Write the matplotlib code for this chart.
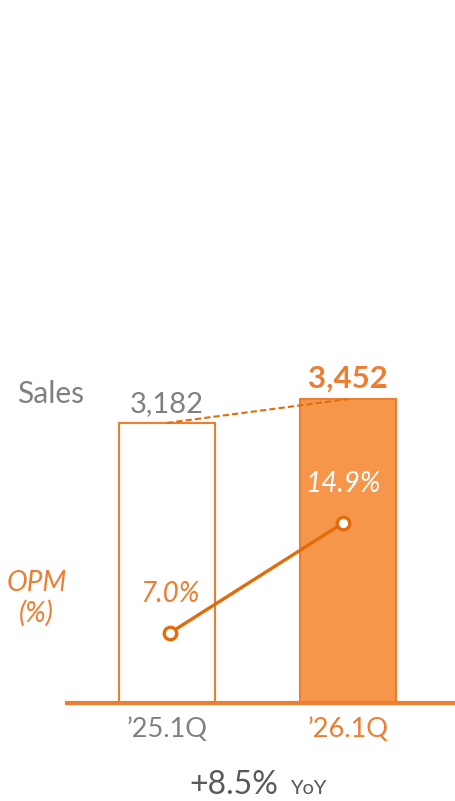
import matplotlib
matplotlib.use("Agg")
import matplotlib.pyplot as plt

categories = ["\u201925.1Q", "\u201926.1Q"]
sales = [3182, 3452]
sales_labels = ["3,182", "3,452"]
opm = [7.0, 14.9]
opm_labels = ["7.0%", "14.9%"]
yoy_text = "+8.5%"

ORANGE = "#ED7D31"
ORANGE_FILL = "#F5964A"
LINE = "#E36C0A"
GRAY = "#808080"
DARK = "#595959"

plt.rcParams['font.family'] = ['Lato', 'DejaVu Sans']

W, H = 455, 801
fig = plt.figure(figsize=(W/100, H/100), dpi=100)
ax = fig.add_axes([67/W, (H-703)/H, (W-67)/W, 700/H])
x = [0, 1]
ax.set_xlim(-100/181, 288/181)
ax.set_ylim(0, 700/0.08803)

ax.bar(x[0], sales[0], width=96/181, color="white", edgecolor=ORANGE, linewidth=1.5, zorder=2)
ax.bar(x[1], sales[1], width=96/181, color=ORANGE_FILL, edgecolor=ORANGE, linewidth=1.5, zorder=2)
ax.plot(x, sales, linestyle=(0, (3, 1.5)), color=LINE, linewidth=1.5, zorder=3)

for s in ["top", "right", "left"]:
    ax.spines[s].set_visible(False)
ax.spines["bottom"].set_color(ORANGE)
ax.spines["bottom"].set_linewidth(3)
ax.set_yticks([])
ax.set_xticks(x)
ax.set_xticklabels(categories, fontsize=19.5, fontweight="normal")
ax.tick_params(axis="x", length=0, pad=10)
for lab, c in zip(ax.get_xticklabels(), [GRAY, ORANGE]):
    lab.set_color(c)

ax.annotate(sales_labels[0], (x[0], sales[0]), xytext=(0, 4), textcoords="offset points",
            ha="center", va="bottom", fontsize=21, color=GRAY)
ax.annotate(sales_labels[1], (x[1], sales[1]), xytext=(0, 5), textcoords="offset points",
            ha="center", va="bottom", fontsize=22.5, color=ORANGE, fontweight="bold")
ax.annotate("Sales", (x[0], sales[0]), xytext=(-84, 21), textcoords="offset points",
            ha="center", va="center", fontsize=21.5, color=GRAY)

ax2 = ax.twinx()
ax2.set_ylim(27.5/13.92, 727.5/13.92)
ax2.axis("off")
ax2.plot([x[0]+0.015, x[1]-0.028], opm, color=LINE, linewidth=2.4, marker="o",
         markersize=9, markerfacecolor="white", markeredgecolor=LINE, markeredgewidth=2.4, zorder=5)
ax2.annotate(opm_labels[0], (x[0], opm[0]), xytext=(2, 28), textcoords="offset points",
             ha="center", va="center", fontsize=20, color=ORANGE, style="italic")
ax2.annotate(opm_labels[1], (x[1], opm[1]), xytext=(-4, 28), textcoords="offset points",
             ha="center", va="center", fontsize=20, color="white", style="italic")
ax2.annotate("OPM\n(%)", (x[0], opm[0]), xytext=(-94, 25), textcoords="offset points",
             ha="center", va="center", fontsize=20, color=ORANGE, style="italic",
             linespacing=1.15)

fig.text(278/W, 1-785/H, yoy_text, ha="right", va="center", fontsize=23, color=DARK)
fig.text(290/W, 1-788/H, "YoY", ha="left", va="center", fontsize=14.5, color=DARK)

fig.savefig("out.png", dpi=100)
